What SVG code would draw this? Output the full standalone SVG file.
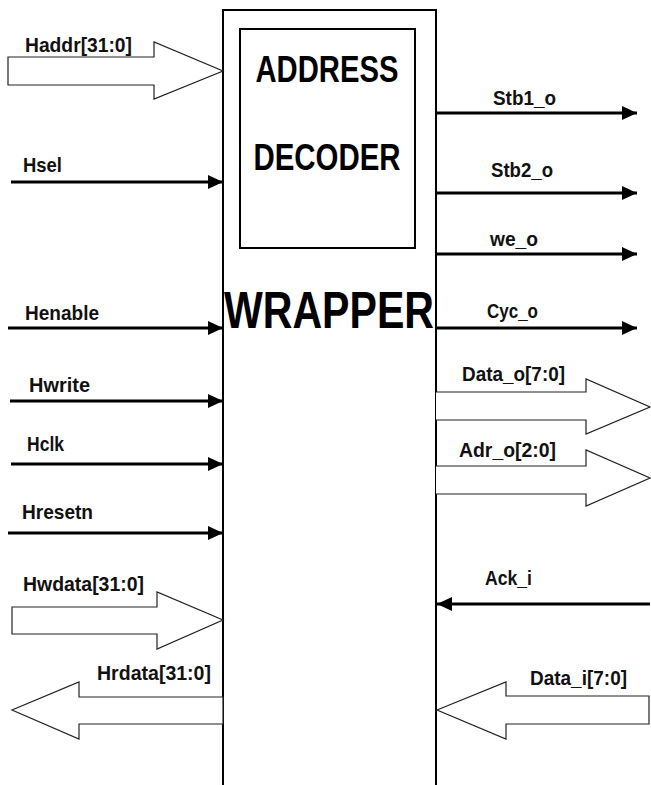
<svg xmlns="http://www.w3.org/2000/svg" width="651" height="785" viewBox="0 0 651 785">
<style>
.lbl{font-family:"Liberation Sans",Arial,sans-serif;font-weight:bold;font-size:21px;fill:#111}
.big{font-family:"Liberation Sans",Arial,sans-serif;font-weight:bold;fill:#000}
.wire{stroke:#000;stroke-width:3;fill:none}
.bus{stroke:#222;stroke-width:1.2;fill:#fff}
.box{stroke:#000;stroke-width:2;fill:#fff}
</style>
<defs>
<marker id="ah" markerUnits="userSpaceOnUse" markerWidth="15" markerHeight="15" viewBox="0 0 15 15" refX="15" refY="7.5" orient="auto">
<path d="M0,0.5 L15,7.5 L0,14.5 Z" fill="#000"/>
</marker>
</defs>
<rect width="651" height="785" fill="#fff"/>
<g id="wrapper">
<path class="box" d="M223,790 V10 H436 V790"/>
<text class="big" x="329" y="328" font-size="52" text-anchor="middle" textLength="210" lengthAdjust="spacingAndGlyphs">WRAPPER</text>
</g>
<g id="decoder">
<rect class="box" x="240" y="29" width="175" height="219"/>
<text class="big" x="327" y="82" font-size="37" text-anchor="middle" textLength="143" lengthAdjust="spacingAndGlyphs">ADDRESS</text>
<text class="big" x="327" y="170" font-size="37" text-anchor="middle" textLength="147" lengthAdjust="spacingAndGlyphs">DECODER</text>
</g>
<g id="connectors">
<path id="haddr" class="bus" d="M8,57 H154 V42 L223,71 L154,99 V85 H8 Z"/>
<path id="hsel" class="wire" d="M11,182 H223" marker-end="url(#ah)"/>
<path id="henable" class="wire" d="M8,328 H223" marker-end="url(#ah)"/>
<path id="hwrite" class="wire" d="M10,401 H223" marker-end="url(#ah)"/>
<path id="hclk" class="wire" d="M11,464 H223" marker-end="url(#ah)"/>
<path id="hresetn" class="wire" d="M8,533 H223" marker-end="url(#ah)"/>
<path id="hwdata" class="bus" d="M12,607 H157 V592 L223,620 L157,649 V634 H12 Z"/>
<path id="hrdata" class="bus" d="M223,697 H79 V682 L12,710 L79,739 V724 H223 Z"/>
<path id="stb1" class="wire" d="M436,113 H637" marker-end="url(#ah)"/>
<path id="stb2" class="wire" d="M436,193 H637" marker-end="url(#ah)"/>
<path id="we" class="wire" d="M436,254 H637" marker-end="url(#ah)"/>
<path id="cyc" class="wire" d="M436,328 H637" marker-end="url(#ah)"/>
<path id="datao" class="bus" d="M436,392 H586 V379 L650,407 L586,434 V420 H436"/>
<path id="adro" class="bus" d="M436,466 H586 V450 L650,478 L586,506 V494 H436"/>
<path id="ack" class="wire" d="M650,604 H437" marker-end="url(#ah)"/>
<path id="datai" class="bus" d="M437,710 L506,682 V696 H649 V724 H506 V739 Z"/>
</g>
<g id="labels">
<text class="lbl" x="25" y="52" textLength="107" lengthAdjust="spacingAndGlyphs">Haddr[31:0]</text>
<text class="lbl" x="23" y="172" textLength="39" lengthAdjust="spacingAndGlyphs">Hsel</text>
<text class="lbl" x="25" y="320" textLength="74" lengthAdjust="spacingAndGlyphs">Henable</text>
<text class="lbl" x="29" y="392" textLength="61" lengthAdjust="spacingAndGlyphs">Hwrite</text>
<text class="lbl" x="27" y="451" textLength="37" lengthAdjust="spacingAndGlyphs">Hclk</text>
<text class="lbl" x="22" y="519" textLength="71" lengthAdjust="spacingAndGlyphs">Hresetn</text>
<text class="lbl" x="23" y="591" textLength="121" lengthAdjust="spacingAndGlyphs">Hwdata[31:0]</text>
<text class="lbl" x="97" y="680" textLength="114" lengthAdjust="spacingAndGlyphs">Hrdata[31:0]</text>
<text class="lbl" x="493" y="105" textLength="63" lengthAdjust="spacingAndGlyphs">Stb1_o</text>
<text class="lbl" x="491" y="177" textLength="62" lengthAdjust="spacingAndGlyphs">Stb2_o</text>
<text class="lbl" x="490" y="246" textLength="48" lengthAdjust="spacingAndGlyphs">we_o</text>
<text class="lbl" x="487" y="318" textLength="51" lengthAdjust="spacingAndGlyphs">Cyc_o</text>
<text class="lbl" x="462" y="381" textLength="103" lengthAdjust="spacingAndGlyphs">Data_o[7:0]</text>
<text class="lbl" x="459" y="457" textLength="97" lengthAdjust="spacingAndGlyphs">Adr_o[2:0]</text>
<text class="lbl" x="485" y="585" textLength="47" lengthAdjust="spacingAndGlyphs">Ack_i</text>
<text class="lbl" x="530" y="685" textLength="97" lengthAdjust="spacingAndGlyphs">Data_i[7:0]</text>
</g>
</svg>
